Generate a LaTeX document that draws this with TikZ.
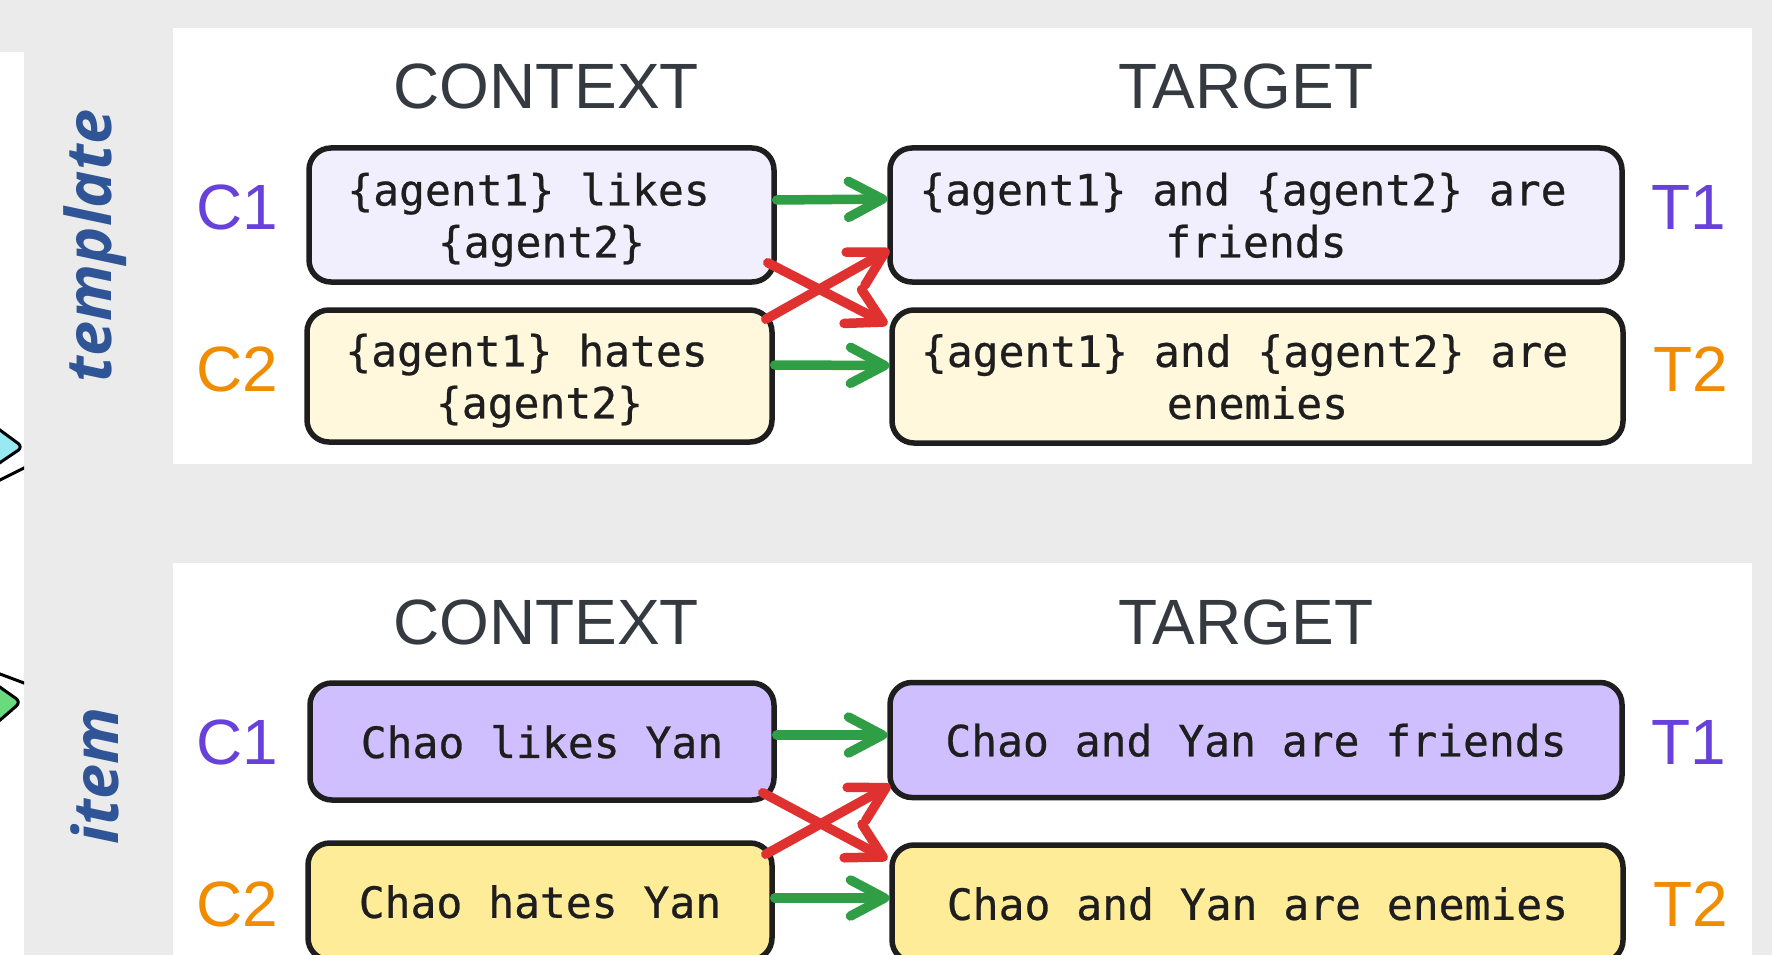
\documentclass[tikz,border=0pt]{standalone}
\usepackage{fontspec}
\setmainfont{Liberation Sans}
\newfontfamily\boxfont[FakeBold=0.6]{DejaVu Sans Mono}
\newfontfamily\sidefont{Open Sans}
\usetikzlibrary{arrows.meta}
\definecolor{bggray}{HTML}{EBEBEB}
\definecolor{boxline}{HTML}{1E1E1E}
\definecolor{textdark}{HTML}{1E1E1E}
\definecolor{hdrgray}{HTML}{343A40}
\definecolor{cviolet}{HTML}{6741D9}
\definecolor{corange}{HTML}{F08C00}
\definecolor{lavlight}{HTML}{F1EFFD}
\definecolor{yellight}{HTML}{FFF8DC}
\definecolor{lavmid}{HTML}{D0BFFF}
\definecolor{yelmid}{HTML}{FFEC99}
\definecolor{arrgreen}{HTML}{2F9E44}
\definecolor{arrred}{HTML}{E03131}
\definecolor{sideblue}{HTML}{2F5597}
\definecolor{cyanfill}{HTML}{99E9F2}
\definecolor{greenfill}{HTML}{69DB7C}
\begin{document}
\begin{tikzpicture}[x=1pt,y=-1pt,
  box/.style={draw=boxline, line width=5.5pt, rounded corners=22pt, inner sep=0pt,
    font=\boxfont\fontsize{43}{52}\selectfont, text=textdark, align=center, text depth=0pt},
  hdr/.style={font=\fontsize{64}{70}\selectfont, text=hdrgray, inner sep=0pt, anchor=base},
  lab/.style={font=\fontsize{64}{70}\selectfont, inner sep=0pt, anchor=base},
  side/.style={font=\sidefont\bfseries\itshape\fontsize{63}{68}\selectfont, text=sideblue, inner sep=0pt, rotate=90},
  garrow/.style={draw=arrgreen, line width=9.5pt, line cap=round,
    -{Straight Barb[length=34pt,width=36pt,round]}},
  rarrow/.style={draw=arrred, line width=9.5pt, line cap=round,
    -{Straight Barb[length=34pt,width=38pt,round]}}
]
\useasboundingbox (0,0) rectangle (1772,955);
\fill[bggray] (0,0) rectangle (1772,955);
% panels
\fill[white] (173,28) rectangle (1752,464);
\fill[white] (173,563) rectangle (1752,955);
\fill[white] (0,52) rectangle (24,955);
% partial shapes at the left edge
\begin{scope}
  \clip (0,52) rectangle (24,955);
  \draw[line width=3pt, fill=cyanfill, rounded corners=6pt] (-30,408) -- (23,447) -- (-30,483) -- cycle;
  \draw[line width=3pt] (-20,490) -- (40,460);
  \draw[line width=3pt, fill=greenfill, rounded corners=6pt] (-30,666) -- (21,702) -- (-30,746) -- cycle;
  \draw[line width=3pt] (-20,666.5) -- (40,689);
\end{scope}
% side labels
\node[side] (tpl) at (95,246) {template};
\node[side] (itm) at (95,776) {item};
% ---------- top panel ----------
\node[hdr] (hctx1) at (546,109) {CONTEXT};
\node[hdr] (htgt1) at (1246,109) {TARGET};
\node[lab, text=cviolet] (lc1t) at (237,229) {C1};
\node[lab, text=corange] (lc2t) at (237,391) {C2};
\node[lab, text=cviolet] (lt1t) at (1689,229) {T1};
\node[lab, text=corange] (lt2t) at (1691,391) {T2};
\node[box, fill=lavlight, minimum width=465pt, minimum height=134pt] (c1t) at (541.5,215)
  {\{agent1\} likes\phantom{x}\\\{agent2\}};
\node[box, fill=yellight, minimum width=465pt, minimum height=132pt] (c2t) at (539.5,376)
  {\{agent1\} hates\phantom{x}\\\{agent2\}};
\node[box, fill=lavlight, minimum width=732pt, minimum height=134pt] (t1t) at (1256,215)
  {\{agent1\} and \{agent2\} are\phantom{x}\\friends};
\node[box, fill=yellight, minimum width=731pt, minimum height=133pt] (t2t) at (1257.5,376.5)
  {\{agent1\} and \{agent2\} are\phantom{x}\\enemies};
\draw[garrow] ([yshift=15pt]c1t.east) -- ([yshift=16pt]t1t.west);
\draw[garrow] ([yshift=11pt]c2t.east) -- ([yshift=11pt]t2t.west);
\draw[rarrow] ([xshift=-9pt,yshift=22pt]c1t.south east) -- ([xshift=-2pt,yshift=-17pt]t2t.north west);
\draw[rarrow] ([xshift=-9pt,yshift=-12pt]c2t.north east) -- ([xshift=2pt,yshift=35pt]t1t.south west);
% ---------- bottom panel ----------
\node[hdr] (hctx2) at (546,644) {CONTEXT};
\node[hdr] (htgt2) at (1246,644) {TARGET};
\node[lab, text=cviolet] (lc1b) at (237,764) {C1};
\node[lab, text=corange] (lc2b) at (237,926) {C2};
\node[lab, text=cviolet] (lt1b) at (1689,764) {T1};
\node[lab, text=corange] (lt2b) at (1691,926) {T2};
\node[box, fill=lavmid, minimum width=464pt, minimum height=117pt] (c1b) at (542,741.5)
  {Chao likes Yan};
\node[box, fill=yelmid, minimum width=464pt, minimum height=117pt] (c2b) at (540,901.5)
  {Chao hates Yan};
\node[box, fill=lavmid, minimum width=732pt, minimum height=115pt] (t1b) at (1256,740)
  {Chao and Yan are friends};
\node[box, fill=yelmid, minimum width=731pt, minimum height=117pt] (t2b) at (1257.5,903.5)
  {Chao and Yan are enemies};
\draw[garrow] ([yshift=6.5pt]c1b.east) -- ([yshift=5pt]t1b.west);
\draw[garrow] ([yshift=3.5pt]c2b.east) -- ([yshift=5.5pt]t2b.west);
\draw[rarrow] ([xshift=-14pt,yshift=10pt]c1b.south east) -- ([xshift=-2pt,yshift=-17pt]t2b.north west);
\draw[rarrow] ([xshift=-9pt,yshift=-14pt]c2b.north east) -- ([xshift=3pt,yshift=15pt]t1b.south west);
\end{tikzpicture}
\end{document}
